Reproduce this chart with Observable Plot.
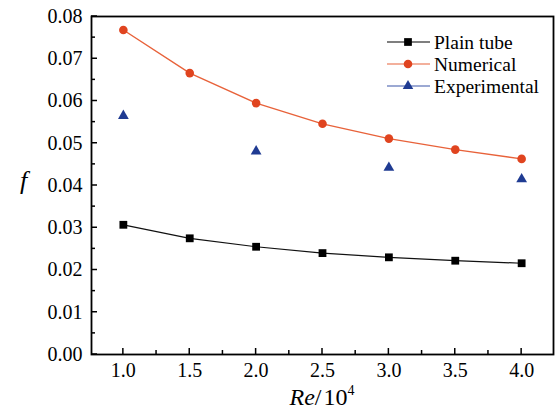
<!DOCTYPE html>
<html><head><meta charset="utf-8">
<script src="https://cdn.jsdelivr.net/npm/d3@7"></script>
<script src="https://cdn.jsdelivr.net/npm/@observablehq/plot@0.6"></script>
<style>body{margin:0;background:#fff}</style>
</head><body><div id="chart"></div>
<script>
const re = [1.0, 1.5, 2.0, 2.5, 3.0, 3.5, 4.0];
const plainTube = [0.0307, 0.0275, 0.0255, 0.0240, 0.0230, 0.0222, 0.0216];
const numerical = [0.0768, 0.0666, 0.0595, 0.0546, 0.0511, 0.0485, 0.0463];
const reExp = [1.0, 2.0, 3.0, 4.0];
const experimental = [0.0565, 0.0481, 0.0442, 0.0415];
const xTicks = [1.0, 1.5, 2.0, 2.5, 3.0, 3.5, 4.0];
const xMinor = [1.25, 1.75, 2.25, 2.75, 3.25, 3.75];
const yTicks = [0, 0.01, 0.02, 0.03, 0.04, 0.05, 0.06, 0.07, 0.08];
const yMinor = [0.005, 0.015, 0.025, 0.035, 0.045, 0.055, 0.065, 0.075];
const seriesNames = ["Plain tube", "Numerical", "Experimental"];

const RED = "#e0441f", RED_LINE = "#e8623a", BLUE = "#1f3b92";
const plainData = re.map((x, i) => ({x, y: plainTube[i]}));
const numData = re.map((x, i) => ({x, y: numerical[i]}));
const expData = reExp.map((x, i) => ({x, y: experimental[i]}));

const font = "Liberation Serif, Times New Roman, serif";
const chart = Plot.plot({
  width: 560, height: 409,
  marginLeft: 91, marginRight: 7, marginTop: 16, marginBottom: 55,
  style: {fontFamily: font, fontSize: "20px", color: "black", background: "white"},
  x: {domain: [0.76, 4.24]},
  y: {domain: [0, 0.08]},
  marks: [
    Plot.axisX(xTicks, {tickSize: 0, tickPadding: 8, tickFormat: d3.format(".1f"), label: null, fontSize: 20}),
    Plot.axisY(yTicks, {tickSize: 0, tickPadding: 9, tickFormat: d3.format(".2f"), label: null, fontSize: 20}),
    Plot.frame({stroke: "black", strokeWidth: 1.8}),
    Plot.line(plainData, {x: "x", y: "y", stroke: "#111", strokeWidth: 1.2}),
    Plot.line(numData, {x: "x", y: "y", stroke: RED_LINE, strokeWidth: 1.4}),
    Plot.dot(plainData, {x: "x", y: "y", symbol: "square", r: 4.4, fill: "black"}),
    Plot.dot(numData, {x: "x", y: "y", symbol: "circle", r: 4.3, fill: RED}),
    Plot.dot(expData, {x: "x", y: "y", symbol: "triangle", r: 4, fill: BLUE})
  ]
});
document.getElementById("chart").append(chart);

const svg = d3.select(chart);
const sx = chart.scale("x"), sy = chart.scale("y");
const [x0] = sx.range, [y0] = sy.range;
// inward ticks drawn from the plot's own scales
const tg = svg.append("g").attr("stroke", "black").attr("stroke-width", 1.5);
xTicks.forEach(t => tg.append("line").attr("x1", sx.apply(t)).attr("x2", sx.apply(t)).attr("y1", y0).attr("y2", y0 - 6));
xMinor.forEach(t => tg.append("line").attr("x1", sx.apply(t)).attr("x2", sx.apply(t)).attr("y1", y0).attr("y2", y0 - 4));
yTicks.forEach(t => tg.append("line").attr("y1", sy.apply(t)).attr("y2", sy.apply(t)).attr("x1", x0).attr("x2", x0 + 6));
yMinor.forEach(t => tg.append("line").attr("y1", sy.apply(t)).attr("y2", sy.apply(t)).attr("x1", x0).attr("x2", x0 + 4));

// axis titles
svg.append("text").attr("x", 20).attr("y", 189).attr("text-anchor", "start")
  .attr("font-family", font).attr("font-size", 26).attr("font-style", "italic").text("f");
const xt = svg.append("text").attr("x", 322).attr("y", 405).attr("text-anchor", "middle")
  .attr("font-family", font).attr("font-size", 24);
xt.append("tspan").attr("font-style", "italic").text("Re");
xt.append("tspan").text("/\u200A10");
xt.append("tspan").attr("font-size", 14).attr("dy", -10).text("4");

// legend
const colors = ["black", RED_LINE, "#3a55a8"];
const fills = ["black", RED, BLUE];
const syms = [d3.symbolSquare, d3.symbolCircle, d3.symbolTriangle];
const sizes = [60, 58, 48];
const lg = svg.append("g");
seriesNames.forEach((name, i) => {
  const y = 42 + i * 22;
  lg.append("line").attr("x1", 387).attr("x2", 430).attr("y1", y).attr("y2", y)
    .attr("stroke", colors[i]).attr("stroke-width", 1.2);
  lg.append("path").attr("d", d3.symbol(syms[i], sizes[i])()).attr("transform", `translate(408,${y})`)
    .attr("fill", fills[i]);
  lg.append("text").attr("x", 434).attr("y", y + 6.5).attr("text-anchor", "start")
    .attr("font-family", font).attr("font-size", 19.5).text(name);
});
</script></body></html>
